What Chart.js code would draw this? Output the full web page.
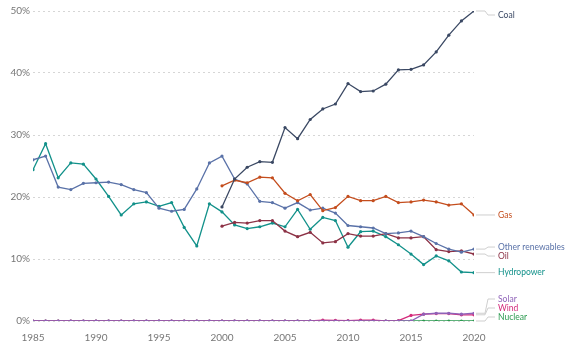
<!DOCTYPE html>
<html>
<head>
<meta charset="utf-8">
<script src="https://cdn.jsdelivr.net/npm/chart.js@4"></script>
<style>
    html, body { margin: 0; padding: 0; background: #fff; }
    #wrap { width: 572px; height: 349px; position: relative; }
</style>
</head>
<body>
<div id="wrap"><canvas id="chart"></canvas></div>
<script>
// share of each source, in %, one value per year
const years = [];
for (let y = 1985; y <= 2020; y++) years.push(y);

const yTicks = [0, 10, 20, 30, 40, 50];
const xTicks = [1985, 1990, 1995, 2000, 2005, 2010, 2015, 2020];

const N = null;
const coal = [N, N, N, N, N, N, N, N, N, N, N, N, N, N, N,
    18.4, 22.9, 24.8, 25.7, 25.6, 31.2, 29.4, 32.5, 34.2, 35.0, 38.3,
    37.0, 37.1, 38.2, 40.5, 40.6, 41.3, 43.4, 46.1, 48.4, 50.0];
const gas = [N, N, N, N, N, N, N, N, N, N, N, N, N, N, N,
    21.8, 22.7, 22.3, 23.2, 23.1, 20.6, 19.4, 20.4, 17.8, 18.3, 20.1,
    19.4, 19.4, 20.1, 19.1, 19.2, 19.5, 19.2, 18.7, 18.9, 17.1];
const otherRenewables = [26.0, 26.6, 21.6, 21.2, 22.2, 22.3, 22.4, 22.0, 21.2, 20.7,
    18.2, 17.7, 18.0, 21.3, 25.5, 26.6, 22.9, 22.1, 19.3, 19.1,
    18.2, 19.1, 17.9, 18.2, 17.4, 15.4, 15.2, 15.0, 14.1, 14.2,
    14.5, 13.6, 12.5, 11.6, 11.1, 11.6];
const oil = [N, N, N, N, N, N, N, N, N, N, N, N, N, N, N,
    15.3, 15.9, 15.8, 16.2, 16.2, 14.5, 13.6, 14.3, 12.6, 12.8, 14.1,
    13.7, 13.7, 14.1, 13.4, 13.4, 13.6, 11.5, 11.2, 11.3, 10.8];
const hydropower = [24.4, 28.6, 23.1, 25.5, 25.3, 22.9, 20.1, 17.1, 18.9, 19.2,
    18.5, 19.1, 15.1, 12.1, 18.9, 17.6, 15.5, 14.9, 15.2, 15.8,
    15.2, 18.0, 14.8, 16.7, 16.2, 11.9, 14.4, 14.5, 13.6, 12.3,
    10.8, 9.1, 10.5, 9.7, 7.9, 7.8];
const solar = [0, 0, 0, 0, 0, 0, 0, 0, 0, 0, 0, 0, 0, 0, 0, 0, 0, 0, 0, 0,
    0, 0, 0, 0, 0, 0, 0, 0, 0, 0, 0, 1.1, 1.25, 1.25, 1.1, 1.25];
const wind = [0, 0, 0, 0, 0, 0, 0, 0, 0, 0, 0, 0, 0, 0, 0, 0, 0, 0, 0, 0,
    0, 0, 0, 0.15, 0.1, 0.05, 0.15, 0.15, 0, 0.05, 0.9, 1.1, 1.2, 1.2, 1.0, 1.0];
const nuclear = [0, 0, 0, 0, 0, 0, 0, 0, 0, 0, 0, 0, 0, 0, 0, 0, 0, 0, 0, 0,
    0, 0, 0, 0, 0, 0, 0, 0, 0, 0, 0, 0, 0, 0, 0, 0];

const seriesNames = ["Solar", "Wind", "Nuclear", "Coal", "Gas", "Other renewables", "Oil", "Hydropower"];
const seriesData = [solar, wind, nuclear, coal, gas, otherRenewables, oil, hydropower];
const seriesColors = ["#8f62b8", "#d42a7b", "#2b9a50", "#3a4863", "#c44d1d", "#5a72a8", "#8c3246", "#12918a"];

function toPoints(arr) {
    return arr.map((v, i) => ({x: years[i], y: v}));
}

// end labels with grey connectors, pushed apart so they don't overlap
const endLabels = {
    id: "endLabels",
    afterDatasetsDraw(chart) {
        let ctx = chart.ctx;
        let items = [];
        chart.data.datasets.forEach((ds, i) => {
            let meta = chart.getDatasetMeta(i);
            let last = meta.data[meta.data.length - 1];
            items.push({name: ds.label, color: ds.borderColor, x: last.x, y: last.y, ly: last.y});
        });
        items.sort((a, b) => a.y - b.y);
        const gap = 9, minY = 15, maxY = 317;
        for (let k = 0; k < 100; k++) {
            for (let i = 1; i < items.length; i++) {
                let d = items[i].ly - items[i - 1].ly;
                if (d < gap) {
                    let s = (gap - d) / 2;
                    items[i].ly += s;
                    items[i - 1].ly -= s;
                }
            }
            items.forEach(it => { it.ly = Math.max(minY, Math.min(maxY, it.ly)); });
        }
        ctx.save();
        ctx.font = "8.5px Lato";
        ctx.textBaseline = "middle";
        items.forEach(it => {
            ctx.strokeStyle = "#cfcfcf";
            ctx.lineWidth = 1;
            ctx.beginPath();
            ctx.moveTo(it.x + 2, it.y);
            ctx.lineTo(it.x + 11, it.y);
            ctx.lineTo(it.x + 14, it.ly);
            ctx.lineTo(it.x + 21, it.ly);
            ctx.stroke();
            ctx.fillStyle = it.color;
            ctx.fillText(it.name, it.x + 24, it.ly);
        });
        ctx.restore();
    }
};

new Chart(document.getElementById("chart"), {
    type: "line",
    data: {
        datasets: seriesNames.map((name, i) => ({
            label: name,
            data: toPoints(seriesData[i]),
            borderColor: seriesColors[i],
            backgroundColor: seriesColors[i],
            borderWidth: 1.3,
            pointRadius: 1.6,
            pointBorderWidth: 0,
            tension: 0,
        }))
    },
    options: {
        responsive: true,
        maintainAspectRatio: false,
        animation: false,
        layout: {padding: {top: 11, right: 98, left: 0, bottom: 0}},
        plugins: {legend: {display: false}, tooltip: {enabled: false}},
        scales: {
            x: {
                type: "linear",
                min: 1985,
                max: 2020,
                afterBuildTicks(scale) { scale.ticks = xTicks.map(v => ({value: v})); },
                ticks: {color: "#777", font: {family: "Lato", size: 10}, padding: 3,
                    callback: v => String(v)},
                grid: {display: false},
                border: {display: false},
                afterFit(scale) { scale.height = 28; }
            },
            y: {
                min: 0,
                max: 50,
                afterBuildTicks(scale) { scale.ticks = yTicks.map(v => ({value: v})); },
                ticks: {color: "#777", font: {family: "Lato", size: 10}, padding: 3,
                    callback: v => v + "%"},
                grid: {color: "#d6d6d6", drawTicks: false},
                border: {display: false, dash: [2, 3]},
                afterFit(scale) { scale.width = 33; }
            }
        }
    },
    plugins: [endLabels]
});
</script>
</body>
</html>
